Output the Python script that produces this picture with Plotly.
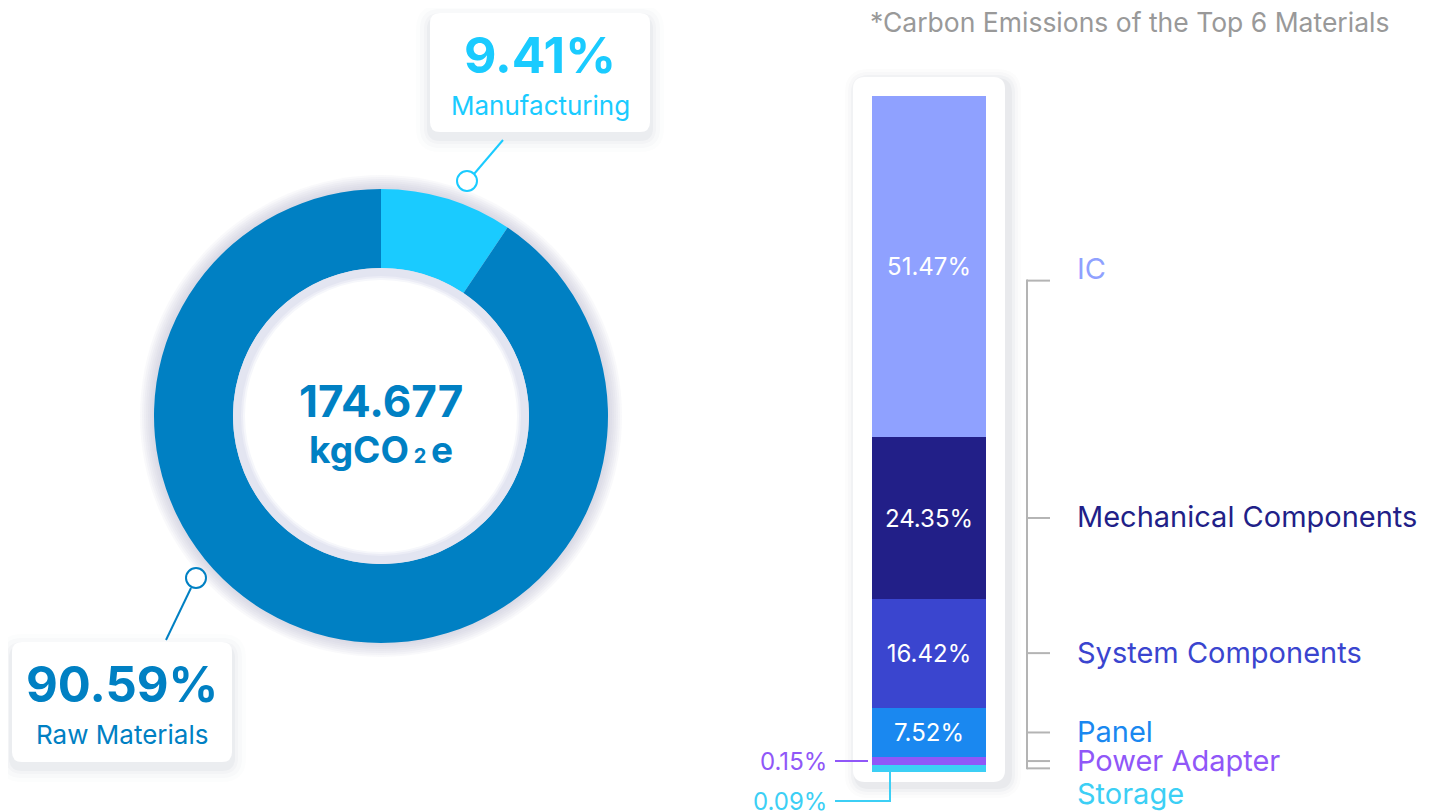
import plotly.graph_objects as go

W, H = 1437, 812
OFF = 8  # page offset of the plot (default body margin)
FONT = "Inter"

# ---------------- data ----------------
stage_labels = ["Manufacturing", "Raw Materials"]
stage_values = [9.41, 90.59]
stage_colors = ["#1ACBFF", "#0080C3"]
total_emission = "174.677"

materials = ["IC", "Mechanical Components", "System Components", "Panel", "Power Adapter", "Storage"]
material_values = [51.47, 24.35, 16.42, 7.52, 0.15, 0.09]
material_colors = ["#8FA1FF", "#221F88", "#3A45CF", "#1A88F0", "#9057F8", "#3CCFF5"]
title_text = "*Carbon Emissions of the Top 6 Materials"
MIN_SHOWN = 1.1  # minimum visible segment height (in %) for tiny segments

# ---------------- geometry (page pixels) ----------------
CX, CY, R_OUT = 381, 416, 227
R_HOLE = 148
R_WHITE = 136
BAR_X0, BAR_X1, BAR_TOP, BAR_BOT = 872, 986, 96, 772


def fx(p):
    return (p - OFF) / W


def fy(p):
    return (H - (p - OFF)) / H


def rrect(x0, y0, x1, y1, r):
    return (f"M{x0+r},{y0} L{x1-r},{y0} Q{x1},{y0} {x1},{y0+r} L{x1},{y1-r} "
            f"Q{x1},{y1} {x1-r},{y1} L{x0+r},{y1} Q{x0},{y1} {x0},{y1-r} "
            f"L{x0},{y0+r} Q{x0},{y0} {x0+r},{y0} Z")


fig = go.Figure()

# donut
fig.add_trace(go.Pie(
    labels=stage_labels, values=stage_values, hole=R_HOLE / R_OUT,
    marker=dict(colors=stage_colors, line=dict(width=0)),
    sort=False, direction="clockwise", rotation=0, textinfo="none",
    hoverinfo="label+percent", showlegend=False,
    domain=dict(x=[fx(CX - R_OUT), fx(CX + R_OUT)],
                y=[fy(CY + R_OUT), fy(CY - R_OUT)]),
))

# stacked bar (bottom to top)
shown = [max(v, MIN_SHOWN) for v in material_values]
total_shown = sum(shown)
order = list(range(len(materials)))[::-1]
for i in order:
    v = material_values[i]
    fig.add_trace(go.Bar(
        x=[0], y=[shown[i]], width=1, name=materials[i],
        marker=dict(color=material_colors[i], line=dict(width=0)),
        text=[f"{v:.2f}%"] if v >= 5 else None,
        textposition="inside" if v >= 5 else "none",
        insidetextanchor="middle", textangle=0,
        textfont=dict(family=FONT, size=24, color="white"),
        hovertemplate=f"{materials[i]}: {v:.2f}%<extra></extra>",
        xaxis="x2", yaxis="y2", showlegend=False,
    ))

shapes = []
annotations = []

# card behind the bar (with shadow)
cx0, cy0, cx1, cy1 = 853, 77, 1005, 782
for k, op in [(12, 0.015), (9, 0.02), (6, 0.03), (3, 0.04)]:
    shapes.append(dict(type="path", xref="x", yref="y", layer="below",
                       path=rrect(cx0 - k + 4, cy0 - k + 4, cx1 + k + 4, cy1 + k + 4, 12 + k),
                       fillcolor=f"rgba(40,50,80,{op})", line=dict(width=0)))
shapes.append(dict(type="path", xref="x", yref="y", layer="below",
                   path=rrect(cx0, cy0, cx1, cy1, 12), fillcolor="white", line=dict(width=0)))

# donut outer glow
for k in range(14, 0, -2):
    shapes.append(dict(type="circle", xref="x", yref="y", layer="below",
                       x0=CX - R_OUT - k, x1=CX + R_OUT + k, y0=CY - R_OUT - k, y1=CY + R_OUT + k,
                       fillcolor="rgba(170,175,205,0.07)", line=dict(width=0)))
# inner ring
shapes.append(dict(type="circle", xref="x", yref="y", layer="above",
                   x0=CX - R_HOLE, x1=CX + R_HOLE, y0=CY - R_HOLE, y1=CY + R_HOLE,
                   fillcolor="#E3E5F1", line=dict(width=0)))
for k, c in [(4, "#ECEDF6"), (2, "#F6F7FB")]:
    shapes.append(dict(type="circle", xref="x", yref="y", layer="above",
                       x0=CX - R_WHITE - k, x1=CX + R_WHITE + k, y0=CY - R_WHITE - k, y1=CY + R_WHITE + k,
                       fillcolor=c, line=dict(width=0)))
shapes.append(dict(type="circle", xref="x", yref="y", layer="above",
                   x0=CX - R_WHITE, x1=CX + R_WHITE, y0=CY - R_WHITE, y1=CY + R_WHITE,
                   fillcolor="white", line=dict(width=0)))

# callout boxes
boxes = [
    dict(box=(430, 13, 650, 132), line=((503, 140), (474, 174)), circ=(467, 181),
         color=stage_colors[0], pct=stage_values[0], label=stage_labels[0], size=50),
    dict(box=(12, 642, 232, 762), line=((166, 640), (191, 588)), circ=(196, 578),
         color=stage_colors[1], pct=stage_values[1], label=stage_labels[1], size=49),
]
for b in boxes:
    x0, y0, x1, y1 = b["box"]
    for k, op in [(14, 0.012), (10, 0.018), (6, 0.025), (3, 0.035)]:
        shapes.append(dict(type="path", xref="x", yref="y", layer="below",
                           path=rrect(x0 - k, y0 - k + 6, x1 + k, y1 + k + 6, 10 + k),
                           fillcolor=f"rgba(40,50,80,{op})", line=dict(width=0)))
    shapes.append(dict(type="path", xref="x", yref="y", layer="below",
                       path=rrect(x0, y0, x1, y1, 10), fillcolor="white", line=dict(width=0)))
    (lx0, ly0), (lx1, ly1) = b["line"]
    shapes.append(dict(type="line", xref="x", yref="y", layer="above",
                       x0=lx0, y0=ly0, x1=lx1, y1=ly1, line=dict(color=b["color"], width=2)))
    ccx, ccy = b["circ"]
    shapes.append(dict(type="circle", xref="x", yref="y", layer="above",
                       x0=ccx - 10, x1=ccx + 10, y0=ccy - 10, y1=ccy + 10,
                       fillcolor="white", line=dict(color=b["color"], width=2)))
    mx = (x0 + x1) / 2
    annotations.append(dict(x=mx, y=y0 + 42, xref="x", yref="y", showarrow=False,
                            text=f"<b>{b['pct']:.2f}%</b>",
                            font=dict(family=FONT, size=b["size"], color=b["color"])))
    annotations.append(dict(x=mx, y=y0 + 92, xref="x", yref="y", showarrow=False,
                            text=b["label"], font=dict(family=FONT, size=26, color=b["color"])))

# center text
annotations.append(dict(x=CX, y=401, xref="x", yref="y", showarrow=False,
                        text=f"<b>{total_emission}</b>",
                        font=dict(family=FONT, size=44, color=stage_colors[1])))
annotations.append(dict(x=CX, y=449, xref="x", yref="y", showarrow=False,
                        text="<b>kgCO<span style='font-size:20px'> 2 </span>e</b>",
                        font=dict(family=FONT, size=37, color=stage_colors[1])))

# title
annotations.append(dict(x=868, y=22, xref="x", yref="y", xanchor="left", showarrow=False,
                        text=title_text, font=dict(family=FONT, size=26.5, color="#999999")))

# right-side labels and bracket (positions derived from the stacked values)
px_per_unit = (BAR_BOT - BAR_TOP) / total_shown


def val_to_px(v):
    return BAR_BOT - v * px_per_unit


cum = 0
mids = {}
for i in order:
    mids[i] = val_to_px(cum + shown[i] / 2)
    cum += shown[i]

label_shift = {0: 3, 5: 26}  # px shifts of label text below segment midpoint
tick_shift = {0: 14}
tick_px = []
for i in range(len(materials)):
    tp = mids[i] + tick_shift.get(i, 0)
    tick_px.append(tp)
    shapes.append(dict(type="line", xref="x", yref="y", layer="above",
                       x0=1027, x1=1050, y0=tp, y1=tp, line=dict(color="#B4B4B4", width=2)))
    annotations.append(dict(x=1075, y=mids[i] + label_shift.get(i, 0) - 1, xref="x", yref="y",
                            xanchor="left", showarrow=False, text=materials[i],
                            font=dict(family=FONT, size=29, color=material_colors[i])))
shapes.append(dict(type="line", xref="x", yref="y", layer="above",
                   x0=1027, x1=1027, y0=min(tick_px) - 1, y1=max(tick_px) + 1,
                   line=dict(color="#B4B4B4", width=2)))

# left labels for tiny segments
i_pa = materials.index("Power Adapter")
i_st = materials.index("Storage")
pa_y = mids[i_pa]
shapes.append(dict(type="line", xref="x", yref="y", layer="above",
                   x0=835, x1=868, y0=pa_y, y1=pa_y, line=dict(color=material_colors[i_pa], width=2)))
annotations.append(dict(x=829, y=pa_y, xref="x", yref="y", xanchor="right", showarrow=False,
                        text=f"{material_values[i_pa]:.2f}%",
                        font=dict(family=FONT, size=24, color=material_colors[i_pa])))
st_y = BAR_BOT + 29
shapes.append(dict(type="path", xref="x", yref="y", layer="above",
                   path=f"M835,{st_y} L890,{st_y} L890,{BAR_BOT}",
                   line=dict(color=material_colors[i_st], width=2)))
annotations.append(dict(x=829, y=st_y, xref="x", yref="y", xanchor="right", showarrow=False,
                        text=f"{material_values[i_st]:.2f}%",
                        font=dict(family=FONT, size=24, color=material_colors[i_st])))

fig.update_layout(
    width=W, height=H, margin=dict(l=0, r=0, t=0, b=0),
    paper_bgcolor="white", plot_bgcolor="rgba(0,0,0,0)",
    barmode="stack", bargap=0,
    xaxis=dict(range=[OFF, W + OFF], domain=[0, 1], visible=False, fixedrange=True),
    yaxis=dict(range=[H + OFF, OFF], domain=[0, 1], visible=False, fixedrange=True),
    xaxis2=dict(range=[-0.5, 0.5], domain=[fx(BAR_X0), fx(BAR_X1)], anchor="y2",
                visible=False, fixedrange=True),
    yaxis2=dict(range=[0, total_shown], domain=[fy(BAR_BOT), fy(BAR_TOP)],
                anchor="x2", visible=False, fixedrange=True),
    shapes=shapes, annotations=annotations, showlegend=False,
    font=dict(family=FONT),
)

fig.write_html("out.html")
